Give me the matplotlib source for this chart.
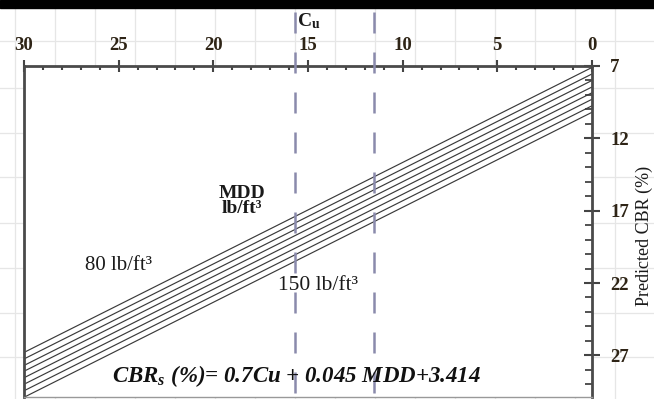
import matplotlib
matplotlib.use("Agg")
import matplotlib.pyplot as plt
from matplotlib.ticker import MultipleLocator
from matplotlib.patches import Rectangle

# ---- data ----
mdd_values = [80, 90, 100, 110, 120, 130, 140, 150]           # lb/ft3, one line each
cbr_at_cu0 = [7.1, 7.55, 8.0, 8.45, 8.85, 9.3, 9.75, 10.2]      # predicted CBR at Cu = 0
cbr_at_cu30 = [26.8, 27.25, 27.7, 28.1, 28.55, 29.0, 29.45, 29.9]  # predicted CBR at Cu = 30
cu_ends = [0, 30]
cu_ticks = [30, 25, 20, 15, 10, 5, 0]
cbr_ticks = [7, 12, 17, 22, 27]
dashed_cu = [15.7, 11.5]

plt.rcParams['mathtext.fontset'] = 'custom'
plt.rcParams['mathtext.it'] = 'Liberation Serif:italic:bold'
plt.rcParams['mathtext.bf'] = 'Liberation Serif:bold'
plt.rcParams['mathtext.rm'] = 'Liberation Serif:bold'

W, H = 654, 399
fig = plt.figure(figsize=(W / 100, H / 100), dpi=100)
fig.patch.set_facecolor('white')

def fx(x):
    return x / W

def fy(y):
    return 1 - y / H

# faint page grid in the background
bg = fig.add_axes([0, 0, 1, 1], zorder=0)
bg.set_xlim(0, W)
bg.set_ylim(H, 0)
bg.axis('off')
for x in range(15, W + 1, 40):
    bg.axvline(x, color='#e6e6e6', lw=0.9)
for y in [41, 88, 133, 177, 223, 268, 313, 357]:
    bg.axhline(y, color='#e6e6e6', lw=0.9)

ax = fig.add_axes([fx(24), 2 / H, (592 - 24) / W, (397 - 66) / H], zorder=1)
ax.set_facecolor('white')
ax.set_xlim(30, 0)
ax.set_ylim(29.88, 7)

for i, m in enumerate(mdd_values):
    ax.plot(cu_ends, [cbr_at_cu0[i], cbr_at_cu30[i]], color='#3a3a3a', lw=0.85)

for c in dashed_cu:
    ax.plot([c, c], [1.162, 0], transform=ax.get_xaxis_transform(), clip_on=False,
            color='#8a8aac', lw=1.8, dashes=(8.4, 7.6), zorder=3)

# spines
for s in ['left', 'top', 'right']:
    ax.spines[s].set_color('#4a4a4a')
    ax.spines[s].set_linewidth(2)
ax.spines['bottom'].set_color('#999999')
ax.spines['bottom'].set_linewidth(1)

tick_font = dict(family='Liberation Serif', weight='bold', size=13.5)
lab_col = '#2e2416'

ax.xaxis.tick_top()
ax.set_xticks(cu_ticks)
ax.set_xticklabels([str(t) for t in cu_ticks], fontdict=tick_font, color=lab_col)
ax.xaxis.set_minor_locator(MultipleLocator(1))
ax.tick_params(axis='x', which='major', direction='inout', length=9, width=1.5,
               color='#444444', pad=4)
ax.tick_params(axis='x', which='minor', direction='in', length=3, width=1.5, color='#444444')

ax.yaxis.tick_right()
ax.set_yticks(cbr_ticks)
ax.set_yticklabels([str(t) for t in cbr_ticks], fontdict=tick_font, color=lab_col)
ax.yaxis.set_minor_locator(MultipleLocator(1))
ax.tick_params(axis='y', which='major', direction='inout', length=12, width=1.5,
               color='#444444', pad=7)
ax.tick_params(axis='y', which='minor', direction='in', length=5, width=1.3, color='#444444')

# texts
fig.text(fx(297), fy(21), r'C$_{\mathbf{u}}$', family='Liberation Serif', weight='bold',
         size=14, color='#1a1a1a', ha='left', va='center')
fig.text(fx(242), fy(201), 'MDD\nlb/ft³', family='Liberation Serif', weight='bold',
         size=14, color='#1a1a1a', ha='center', va='center', linespacing=0.9)
fig.text(fx(85), fy(266), '80 lb/ft³', family='Liberation Serif', size=15,
         color='#1a1a1a', ha='left', va='center')
fig.text(fx(278), fy(285), '150 lb/ft³', family='Liberation Serif', size=15.5,
         color='#1a1a1a', ha='left', va='center')
fig.text(fx(296), fy(376), r'CBR$_{s}$ (%)= 0.7Cu + 0.045 MDD+3.414',
         family='Liberation Serif', weight='bold', style='italic', size=16.5,
         color='#111111', ha='center', va='center')
fig.text(fx(644), fy(236), 'Predicted CBR (%)', family='Liberation Serif', size=13,
         color='#1a1a1a', rotation=90, ha='center', va='center')

# black bar at the top of the crop
fig.add_artist(Rectangle((0, fy(7.5)), 1, 7.5 / H, transform=fig.transFigure,
                         color='black', zorder=10))

fig.savefig('out.png', dpi=100)
